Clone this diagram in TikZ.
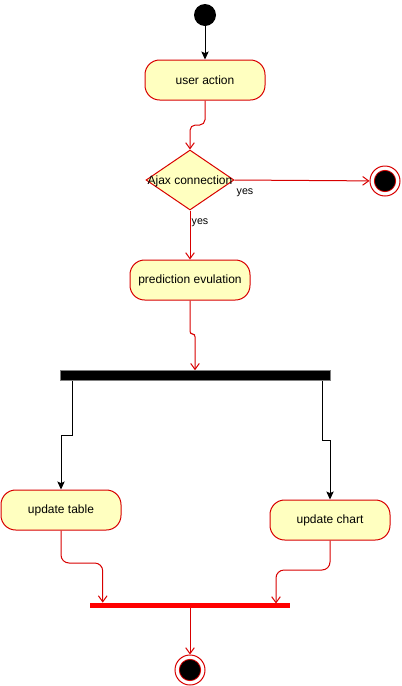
\documentclass[tikz,border=0pt]{standalone}
\usepackage{fontspec}
\setmainfont{Liberation Sans}
\usetikzlibrary{shapes.geometric,arrows.meta,calc}
\definecolor{lred}{HTML}{D80000}
\definecolor{bred}{HTML}{FF0000}
\definecolor{yfill}{HTML}{FFFFC0}
\begin{document}
\begin{tikzpicture}[x=0.75pt,y=-0.75pt,
  actbox/.style={draw=lred,fill=yfill,rounded corners=11pt,minimum width=90pt,minimum height=30pt,inner sep=0pt,line width=0.75pt,font=\fontsize{9}{11}\selectfont},
  decbox/.style={diamond,draw=lred,fill=yfill,minimum width=66pt,minimum height=45pt,inner sep=0pt,line width=0.75pt},
  startdot/.style={circle,fill=black,minimum size=16.5pt,inner sep=0pt},
  endring/.style={circle,draw=lred,fill=white,minimum size=22.5pt,inner sep=0pt,line width=0.75pt},
  endcore/.style={circle,draw=lred,fill=black,minimum size=16pt,inner sep=0pt,line width=0.6pt},
  redflow/.style={draw=lred,line width=0.75pt,rounded corners=4pt,-{Straight Barb[length=4.5pt,width=6.5pt]}},
  blkflow/.style={draw=black,line width=0.75pt,-{Stealth[length=6pt,width=5.5pt,inset=1.2pt]}},
  lbl/.style={font=\fontsize{8}{10}\selectfont,inner sep=0pt}]
\useasboundingbox (0,0) rectangle (401,686);

\node[startdot] (start) at (205,15) {};
\node[actbox] (ua) at (205,80) {user action};
\node[decbox] (dia) at (190,180) {};
\node[font=\fontsize{9}{11}\selectfont,inner sep=0pt] (diat) at (190,181) {Ajax connection};
\node[endring] (end1) at (385,181) {};
\node[endcore] (end1c) at (385,181) {};
\node[actbox] (pe) at (190,280) {prediction evulation};
\node[draw=gray,fill=black,minimum width=202.5pt,minimum height=7.5pt,inner sep=0pt,line width=0.4pt] (bar1) at (195.5,375.5) {};
\node[actbox] (ut) at (61,510) {update table};
\node[actbox] (uc) at (330,520) {update chart};
\node[fill=bred,minimum width=150pt,minimum height=3.9pt,inner sep=0pt] (bar2) at (190,605.5) {};
\node[endring] (end2) at (190,670) {};
\node[endcore] (end2c) at (190,670) {};

\node[lbl] (y1) at (245,193) {yes};
\node[lbl] (y2) at (200,223) {yes};

\coordinate (j1) at (205,125);
\coordinate (j2) at (190,125);
\draw[blkflow] (start) -- (ua);
\draw[redflow] (ua.south) -- (j1) -- (j2) -- (dia.north);
\draw[redflow] (dia.east) -- (end1);
\draw[redflow] (dia.south) -- (pe.north);

\coordinate (j3) at (190,334);
\coordinate (j4) at (195,334);
\draw[redflow,rounded corners=2pt] (pe.south) -- (j3) -- (j4) -- (j4 |- bar1.north);

\coordinate (f1) at ([xshift=9.4pt]bar1.south west);
\coordinate (f2) at ([xshift=-6.4pt]bar1.south east);
\draw[blkflow] (f1) -- (f1 |- 0,435) -- (ut.north |- 0,435) -- (ut.north);
\draw[blkflow] (f2) -- (f2 |- 0,440) -- (uc.north |- 0,440) -- (uc.north);

\coordinate (m1) at ([xshift=9.75pt]bar2.north west);
\coordinate (m2) at (276,603.5);
\draw[redflow,rounded corners=6pt] (ut.south) -- (ut.south |- 0,563) -- (m1 |- 0,563) -- (m1);
\draw[redflow,rounded corners=6pt] (uc.south) -- (uc.south |- 0,570) -- (m2 |- 0,570) -- (m2);
\draw[redflow] (bar2.south) -- (end2);
\end{tikzpicture}
\end{document}
